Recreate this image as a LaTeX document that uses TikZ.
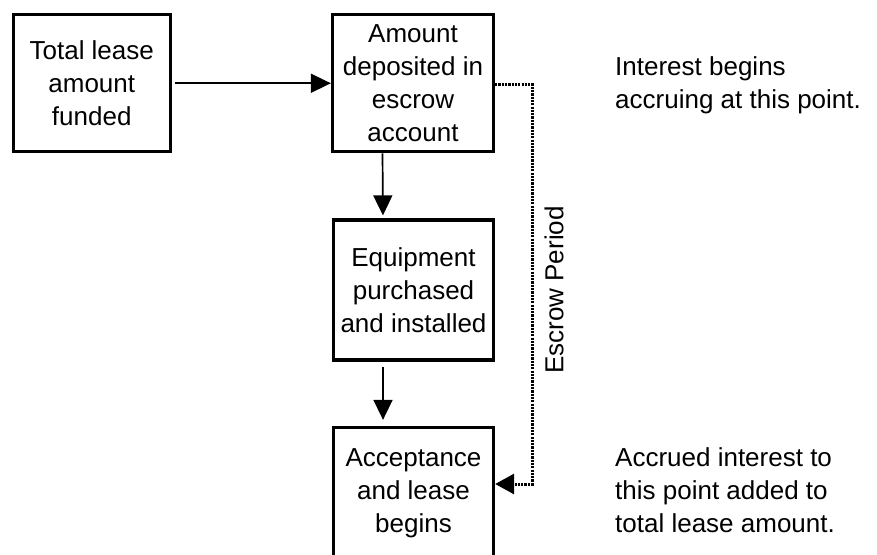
\documentclass[tikz,border=0pt]{standalone}
\usepackage{fontspec}
\setmainfont{Liberation Sans}
\usetikzlibrary{arrows.meta}

\tikzset{
  txt/.style={font=\fontsize{26}{33}\selectfont, inner sep=0pt},
  stepbox/.style={txt, draw=black, line width=3.3pt, align=center},
  arr/.style={line width=1.7pt, -{Triangle[length=20pt,width=19pt]}},
  dotline/.style={line width=3pt, dash pattern=on 2.2pt off 1.1pt,
                  -{Triangle[length=19pt,width=20pt]}},
}

\begin{document}
\begin{tikzpicture}[x=1pt,y=1pt]
  \useasboundingbox (0,0) rectangle (877,-554);
  \clip (0,0) rectangle (877,-554);

  % process boxes
  \node[stepbox, minimum width=157pt, minimum height=137pt] (fund)
    at (91.75,-83.25) {Total lease\\amount\\funded};
  \node[stepbox, minimum width=161pt, minimum height=137pt] (escrow)
    at (413,-83.25) {Amount\\deposited in\\escrow\\account};
  \node[stepbox, minimum width=160pt, minimum height=140pt] (equip)
    at (413.5,-290) {Equipment\\purchased\\and installed};
  \node[stepbox, minimum width=160pt, minimum height=131pt] (accept)
    at (413.5,-493) {Acceptance\\and lease\\begins};

  % flow arrows
  \draw[arr, shorten <=3pt] (fund) -- (escrow);
  \draw[arr, shorten >=3pt] ([xshift=-30.5pt]escrow.south) -- ([xshift=-30.5pt]equip.north);
  \draw[arr, shorten <=5pt, shorten >=6pt] ([xshift=-30.5pt]equip.south) -- ([xshift=-30.5pt]accept.north);

  % escrow period bracket
  \coordinate (c1) at (532,-84);
  \coordinate (c2) at (532,-484);
  \draw[dotline] (escrow.east |- c1) -- (c1) -- (c2) -- (c2 -| accept.east);
  \node[txt, rotate=90] (period) at (554,-290) {Escrow Period};

  % side notes
  \node[txt, anchor=west, align=left] (note1) at (615,-85)
    {Interest begins\\accruing at this point.};
  \node[txt, anchor=west, align=left] (note2) at (615,-490.5)
    {Accrued interest to\\this point added to\\total lease amount.};
\end{tikzpicture}
\end{document}
